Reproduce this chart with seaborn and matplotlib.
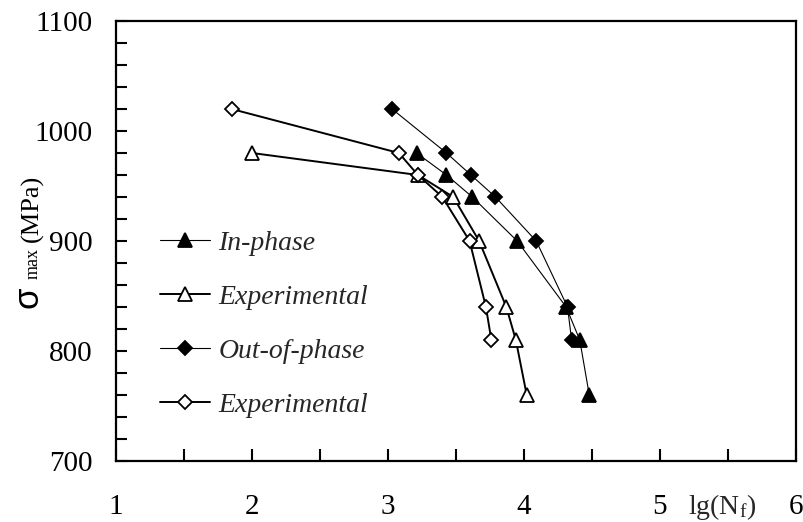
import matplotlib
matplotlib.use("Agg")
import matplotlib.pyplot as plt
import seaborn as sns
import pandas as pd
from matplotlib.ticker import MultipleLocator, FixedLocator

# ---- data ----
inphase_x = [3.21, 3.43, 3.62, 3.95, 4.31, 4.41, 4.48]
inphase_y = [980, 960, 940, 900, 840, 810, 760]
exp_in_x = [2.00, 3.22, 3.48, 3.67, 3.87, 3.94, 4.02]
exp_in_y = [980, 960, 940, 900, 840, 810, 760]
outphase_x = [3.03, 3.43, 3.61, 3.79, 4.09, 4.32, 4.35]
outphase_y = [1020, 980, 960, 940, 900, 840, 810]
exp_out_x = [1.85, 3.08, 3.22, 3.40, 3.60, 3.72, 3.76]
exp_out_y = [1020, 980, 960, 940, 900, 840, 810]
labels = ["In-phase", "Experimental", "Out-of-phase", "Experimental "]
x_ticklabels = ["1", "2", "3", "4", "5", "6"]
y_ticklabels = ["700", "800", "900", "1000", "1100"]

sns.set_theme(style="white")
plt.rcParams["font.family"] = ["Liberation Serif", "DejaVu Serif"]
plt.rcParams["mathtext.fontset"] = "custom"
plt.rcParams["mathtext.rm"] = "Liberation Serif"
plt.rcParams["mathtext.it"] = "Liberation Serif:italic"

W, H = 804, 522
fig = plt.figure(figsize=(W / 100, H / 100), dpi=100)
ax = fig.add_axes([116 / W, 1 - 461 / H, 680 / W, 440 / H])

series = [
    (inphase_x, inphase_y, labels[0], "^", "black", 0.8, 9.5),
    (exp_in_x, exp_in_y, labels[1], "^", "white", 1.4, 9.5),
    (outphase_x, outphase_y, labels[2], "D", "black", 0.8, 7),
    (exp_out_x, exp_out_y, labels[3], "D", "white", 1.4, 7),
]
for xs, ys, lab, mk, fc, lw, ms in series:
    df = pd.DataFrame({"x": xs, "y": ys})
    sns.lineplot(data=df, x="x", y="y", ax=ax, sort=False, estimator=None,
                 color="black", lw=lw, marker=mk, markersize=ms,
                 markerfacecolor=fc, markeredgecolor="black",
                 markeredgewidth=1.3, label=lab)

ax.set_xlim(1, 6)
ax.set_ylim(700, 1100)
ax.xaxis.set_major_locator(FixedLocator([1, 2, 3, 4, 5, 6]))
ax.xaxis.set_minor_locator(MultipleLocator(0.5))
ax.set_xticklabels(x_ticklabels)
ax.yaxis.set_major_locator(FixedLocator([700, 800, 900, 1000, 1100]))
ax.yaxis.set_minor_locator(MultipleLocator(20))
ax.set_yticklabels(y_ticklabels)

ax.tick_params(axis="x", which="both", direction="in", bottom=True, top=False,
               length=9, width=1.5, pad=24, labelsize=21, colors="black")
ax.tick_params(axis="y", which="both", direction="in", left=True, right=False,
               length=8, width=1.5, pad=17, labelsize=21, colors="black")
for s in ax.spines.values():
    s.set_visible(True)
    s.set_linewidth(1.6)
    s.set_color("black")
ax.grid(False)
ax.set_xlabel("")
ax.set_ylabel("")

# y-axis label built from pieces: large sigma, small "max", then "(MPa)"
def ftext(px, py, s, size, family=None):
    kw = dict(rotation=90, rotation_mode="anchor", ha="left", va="baseline",
              fontsize=size, color="black")
    if family:
        kw["family"] = family
    fig.text(px / W, 1 - py / H, s, **kw)

ftext(38, 308, "σ", 25, ["Liberation Sans"])
ftext(38, 279, "max", 13)
ftext(38, 242, "(MPa)", 19)

# x-axis title placed among tick labels
ax.text(5.46, -(514 - 461) / 440, r"lg(N$_{\mathrm{f}}$)",
        transform=ax.get_xaxis_transform(), ha="center", va="baseline",
        fontsize=20)

leg = ax.legend(loc="upper left", bbox_to_anchor=(0.065, 0.524), frameon=False,
                prop={"style": "italic", "size": 20}, handlelength=1.8,
                handletextpad=0.3, labelspacing=1.03, borderpad=0,
                borderaxespad=0)

fig.savefig("out.png", dpi=100)
